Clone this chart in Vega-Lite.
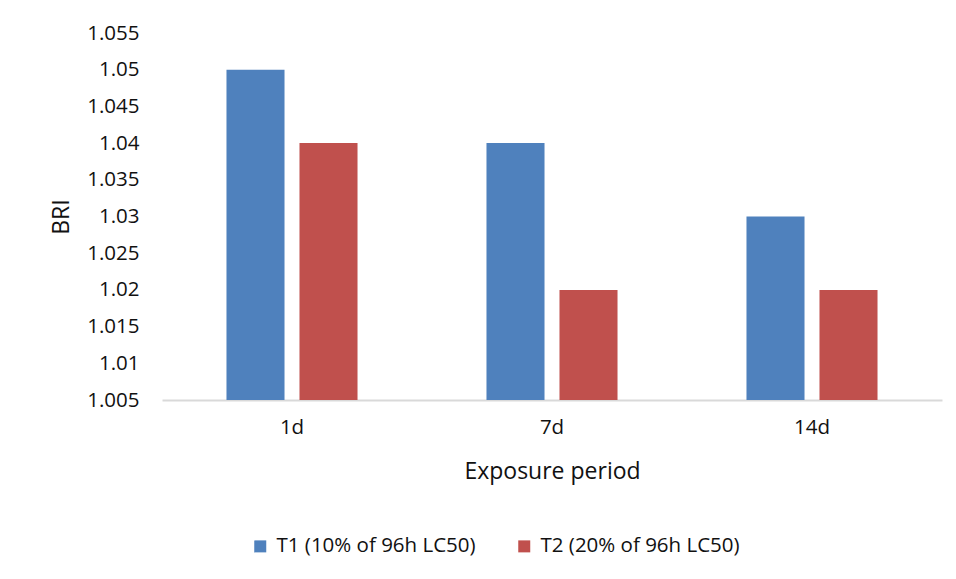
{
  "$schema": "https://vega.github.io/schema/vega-lite/v6.json",
  "width": 780,
  "height": 367,
  "autosize": {"type": "none"},
  "padding": {"left": 162, "top": 33, "right": 14, "bottom": 179},
  "background": "white",
  "config": {
    "view": {"stroke": null},
    "font": "Open Sans",
    "axis": {"grid": false, "ticks": false, "tickSize": 0, "labelFont": "Open Sans", "titleFont": "Open Sans", "labelColor": "#111111", "titleColor": "#111111", "labelFontSize": 20.5, "titleFontSize": 23, "titleFontWeight": "normal"},
    "legend": {"labelFont": "Open Sans", "labelFontSize": 20.5, "labelColor": "#111111", "labelLimit": 400}
  },
  "data": {
    "values": [
      {"period": "1d", "treatment": "T1 (10% of 96h LC50)", "BRI": 1.05},
      {"period": "1d", "treatment": "T2 (20% of 96h LC50)", "BRI": 1.04},
      {"period": "7d", "treatment": "T1 (10% of 96h LC50)", "BRI": 1.04},
      {"period": "7d", "treatment": "T2 (20% of 96h LC50)", "BRI": 1.02},
      {"period": "14d", "treatment": "T1 (10% of 96h LC50)", "BRI": 1.03},
      {"period": "14d", "treatment": "T2 (20% of 96h LC50)", "BRI": 1.02}
    ]
  },
  "mark": {"type": "bar"},
  "encoding": {
    "x": {
      "field": "period",
      "type": "nominal",
      "sort": ["1d", "7d", "14d"],
      "scale": {"paddingInner": 0.496, "paddingOuter": 0.248},
      "axis": {"title": "Exposure period", "labelAngle": 0, "domainColor": "#d9d9d9", "domainWidth": 2, "labelPadding": 17, "titleY": 78, "titleBaseline": "alphabetic"}
    },
    "xOffset": {
      "field": "treatment",
      "type": "nominal",
      "scale": {"paddingInner": 0.205, "paddingOuter": 0}
    },
    "y": {
      "field": "BRI",
      "type": "quantitative",
      "scale": {"domain": [1.005, 1.055], "zero": false, "nice": false},
      "axis": {"title": "BRI", "domain": false, "values": [1.005, 1.01, 1.015, 1.02, 1.025, 1.03, 1.035, 1.04, 1.045, 1.05, 1.055], "format": ".3~f", "labelPadding": 23, "titleX": -101, "titleY": 183.5, "titleAngle": -90, "titleAlign": "center", "titleBaseline": "middle"}
    },
    "y2": {"datum": 1.005},
    "color": {
      "field": "treatment",
      "type": "nominal",
      "scale": {"range": ["#4F81BD", "#C0504D"]},
      "legend": {"title": null, "orient": "none", "direction": "horizontal", "legendX": 88, "legendY": 503, "symbolType": "square", "symbolSize": 144, "symbolStrokeWidth": 0, "columnPadding": 38, "labelOffset": 6}
    }
  }
}
